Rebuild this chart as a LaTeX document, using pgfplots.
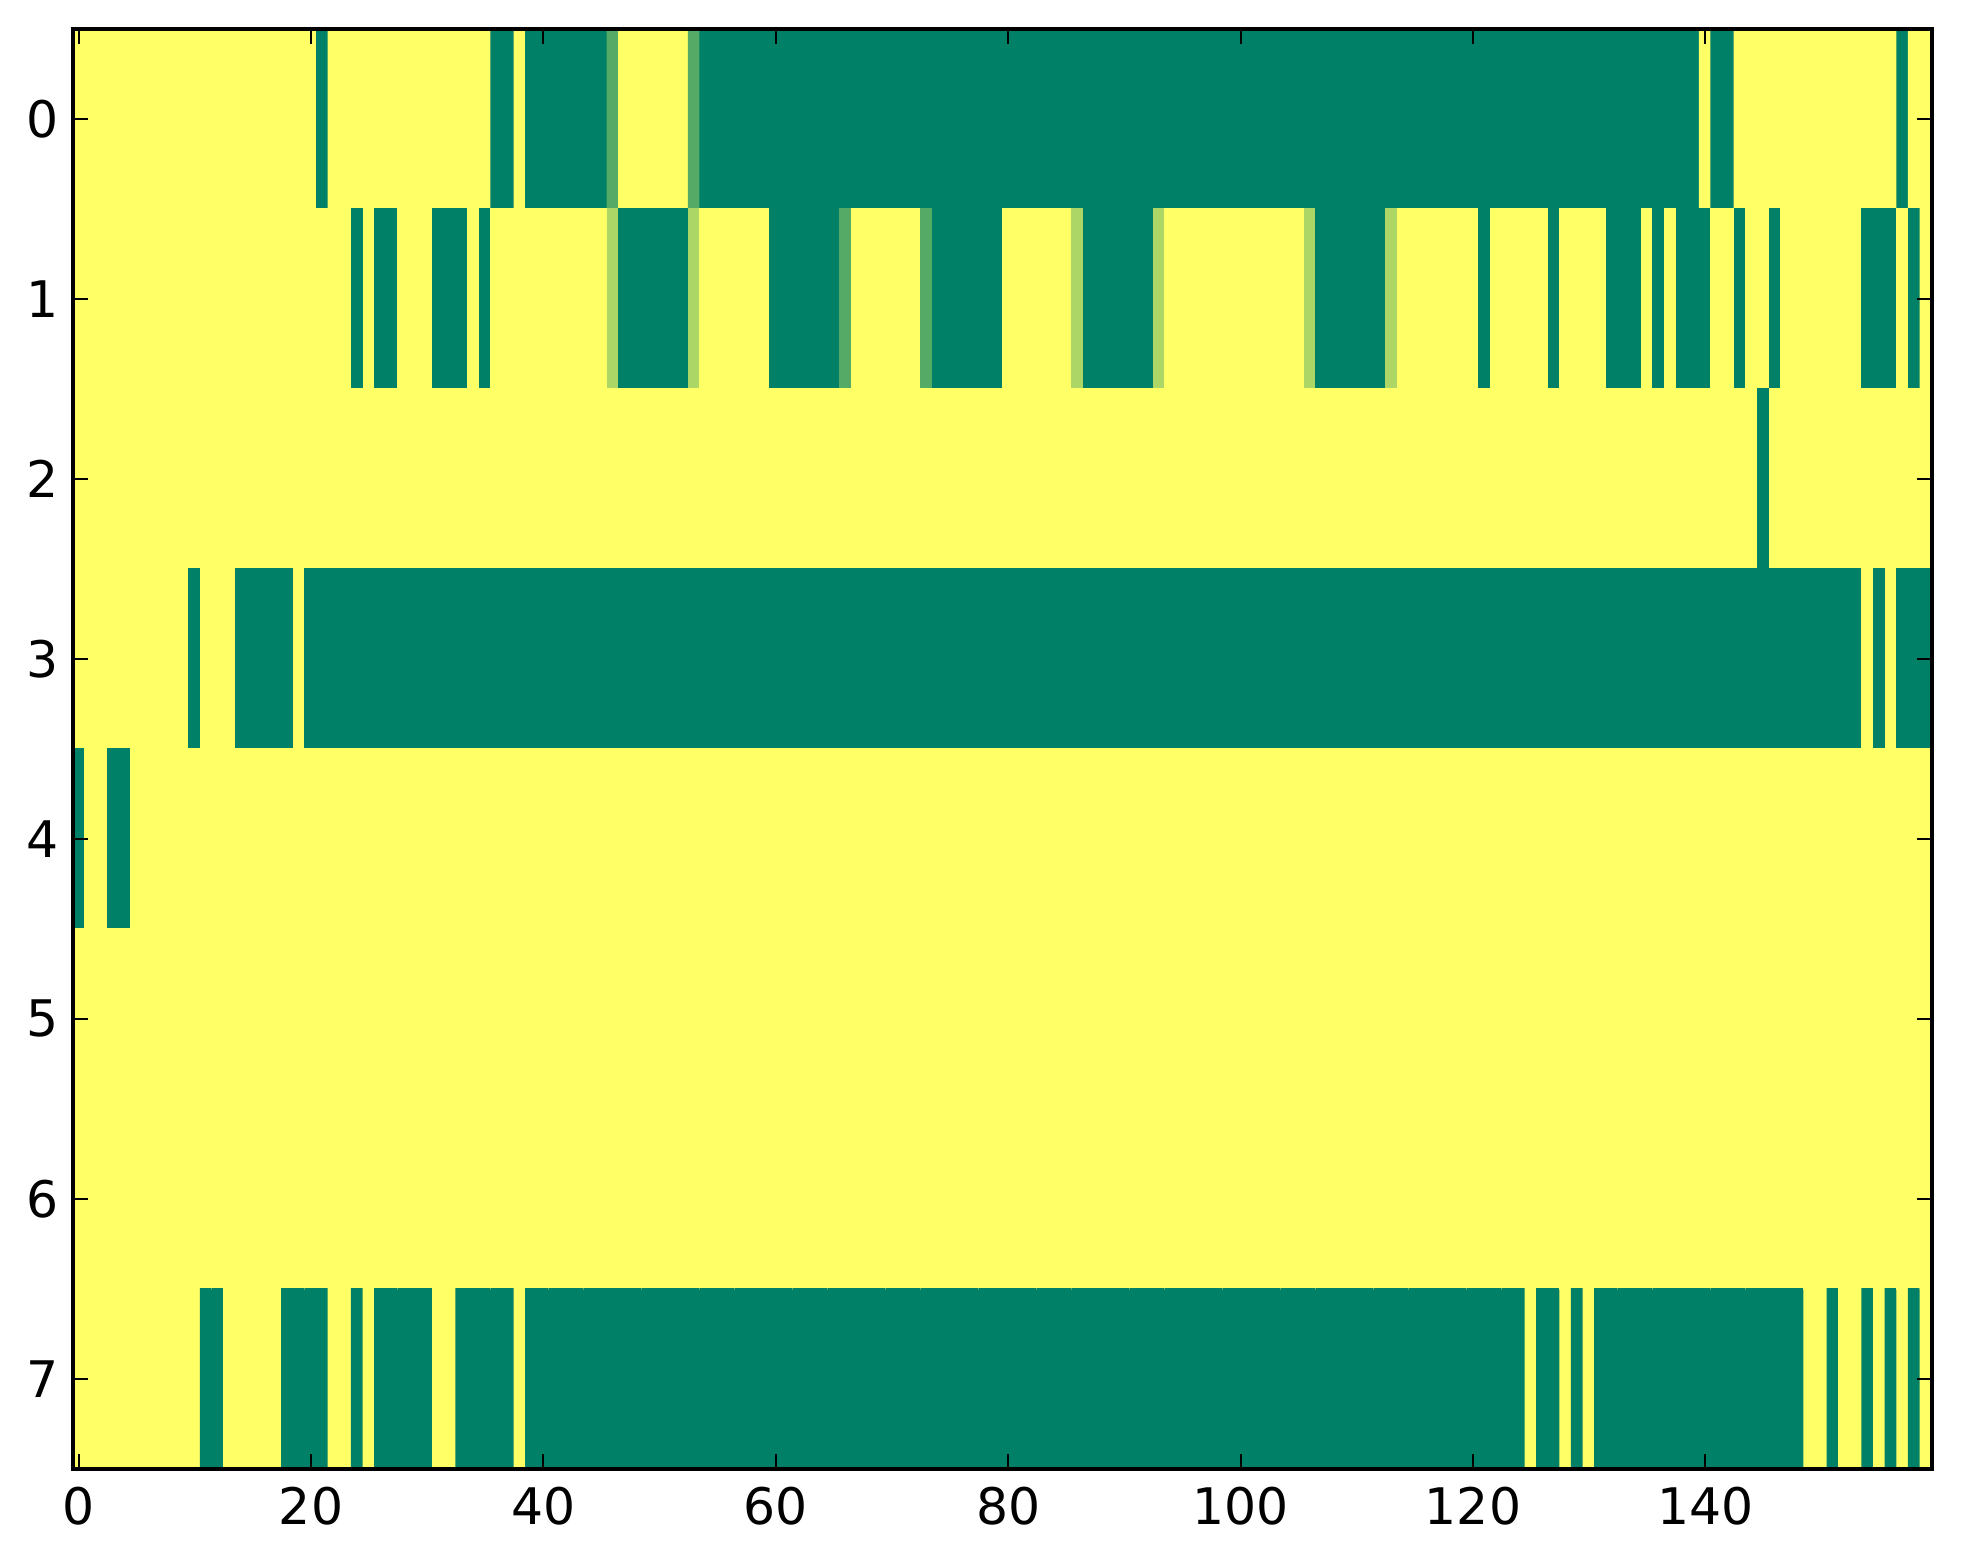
\documentclass[border=0pt]{standalone}
\usepackage{fontspec}
\setmainfont{DejaVu Sans}
\usepackage{pgfplots}
\usepackage{pgfplotstable}
\pgfplotsset{compat=1.18}

% one table per image row, 160 cells each, ten cells per line
\pgfplotstableread[row sep=\\]{
c\\
1\\1\\1\\1\\1\\1\\1\\1\\1\\1\\
1\\1\\1\\1\\1\\1\\1\\1\\1\\1\\
1\\0\\1\\1\\1\\1\\1\\1\\1\\1\\
1\\1\\1\\1\\1\\1\\0\\0\\1\\0\\
0\\0\\0\\0\\0\\0\\.33\\1\\1\\1\\
1\\1\\1\\.33\\0\\0\\0\\0\\0\\0\\
0\\0\\0\\0\\0\\0\\0\\0\\0\\0\\
0\\0\\0\\0\\0\\0\\0\\0\\0\\0\\
0\\0\\0\\0\\0\\0\\0\\0\\0\\0\\
0\\0\\0\\0\\0\\0\\0\\0\\0\\0\\
0\\0\\0\\0\\0\\0\\0\\0\\0\\0\\
0\\0\\0\\0\\0\\0\\0\\0\\0\\0\\
0\\0\\0\\0\\0\\0\\0\\0\\0\\0\\
0\\0\\0\\0\\0\\0\\0\\0\\0\\0\\
1\\0\\0\\1\\1\\1\\1\\1\\1\\1\\
1\\1\\1\\1\\1\\1\\1\\0\\1\\1\\
}\cells
\pgfplotstableread[row sep=\\]{
c\\
1\\1\\1\\1\\1\\1\\1\\1\\1\\1\\
1\\1\\1\\1\\1\\1\\1\\1\\1\\1\\
1\\1\\1\\1\\0\\1\\0\\0\\1\\1\\
1\\0\\0\\0\\1\\0\\1\\1\\1\\1\\
1\\1\\1\\1\\1\\1\\.67\\0\\0\\0\\
0\\0\\0\\.67\\1\\1\\1\\1\\1\\1\\
0\\0\\0\\0\\0\\0\\.33\\1\\1\\1\\
1\\1\\1\\.33\\0\\0\\0\\0\\0\\0\\
1\\1\\1\\1\\1\\1\\.67\\0\\0\\0\\
0\\0\\0\\.67\\1\\1\\1\\1\\1\\1\\
1\\1\\1\\1\\1\\1\\.67\\0\\0\\0\\
0\\0\\0\\.67\\1\\1\\1\\1\\1\\1\\
1\\0\\1\\1\\1\\1\\1\\0\\1\\1\\
1\\1\\0\\0\\0\\1\\0\\1\\0\\0\\
0\\1\\1\\0\\1\\1\\0\\1\\1\\1\\
1\\1\\1\\1\\0\\0\\0\\1\\0\\1\\
}\rowone
\pgfplotstableread[row sep=\\]{
c\\
1\\1\\1\\1\\1\\1\\1\\1\\1\\1\\
1\\1\\1\\1\\1\\1\\1\\1\\1\\1\\
1\\1\\1\\1\\1\\1\\1\\1\\1\\1\\
1\\1\\1\\1\\1\\1\\1\\1\\1\\1\\
1\\1\\1\\1\\1\\1\\1\\1\\1\\1\\
1\\1\\1\\1\\1\\1\\1\\1\\1\\1\\
1\\1\\1\\1\\1\\1\\1\\1\\1\\1\\
1\\1\\1\\1\\1\\1\\1\\1\\1\\1\\
1\\1\\1\\1\\1\\1\\1\\1\\1\\1\\
1\\1\\1\\1\\1\\1\\1\\1\\1\\1\\
1\\1\\1\\1\\1\\1\\1\\1\\1\\1\\
1\\1\\1\\1\\1\\1\\1\\1\\1\\1\\
1\\1\\1\\1\\1\\1\\1\\1\\1\\1\\
1\\1\\1\\1\\1\\1\\1\\1\\1\\1\\
1\\1\\1\\1\\1\\0\\1\\1\\1\\1\\
1\\1\\1\\1\\1\\1\\1\\1\\1\\1\\
}\rowtwo
\pgfplotstableread[row sep=\\]{
c\\
1\\1\\1\\1\\1\\1\\1\\1\\1\\1\\
0\\1\\1\\1\\0\\0\\0\\0\\0\\1\\
0\\0\\0\\0\\0\\0\\0\\0\\0\\0\\
0\\0\\0\\0\\0\\0\\0\\0\\0\\0\\
0\\0\\0\\0\\0\\0\\0\\0\\0\\0\\
0\\0\\0\\0\\0\\0\\0\\0\\0\\0\\
0\\0\\0\\0\\0\\0\\0\\0\\0\\0\\
0\\0\\0\\0\\0\\0\\0\\0\\0\\0\\
0\\0\\0\\0\\0\\0\\0\\0\\0\\0\\
0\\0\\0\\0\\0\\0\\0\\0\\0\\0\\
0\\0\\0\\0\\0\\0\\0\\0\\0\\0\\
0\\0\\0\\0\\0\\0\\0\\0\\0\\0\\
0\\0\\0\\0\\0\\0\\0\\0\\0\\0\\
0\\0\\0\\0\\0\\0\\0\\0\\0\\0\\
0\\0\\0\\0\\0\\0\\0\\0\\0\\0\\
0\\0\\0\\0\\1\\0\\1\\0\\0\\0\\
}\rowthree
\pgfplotstableread[row sep=\\]{
c\\
0\\1\\1\\0\\0\\1\\1\\1\\1\\1\\
1\\1\\1\\1\\1\\1\\1\\1\\1\\1\\
1\\1\\1\\1\\1\\1\\1\\1\\1\\1\\
1\\1\\1\\1\\1\\1\\1\\1\\1\\1\\
1\\1\\1\\1\\1\\1\\1\\1\\1\\1\\
1\\1\\1\\1\\1\\1\\1\\1\\1\\1\\
1\\1\\1\\1\\1\\1\\1\\1\\1\\1\\
1\\1\\1\\1\\1\\1\\1\\1\\1\\1\\
1\\1\\1\\1\\1\\1\\1\\1\\1\\1\\
1\\1\\1\\1\\1\\1\\1\\1\\1\\1\\
1\\1\\1\\1\\1\\1\\1\\1\\1\\1\\
1\\1\\1\\1\\1\\1\\1\\1\\1\\1\\
1\\1\\1\\1\\1\\1\\1\\1\\1\\1\\
1\\1\\1\\1\\1\\1\\1\\1\\1\\1\\
1\\1\\1\\1\\1\\1\\1\\1\\1\\1\\
1\\1\\1\\1\\1\\1\\1\\1\\1\\1\\
}\rowfour
\pgfplotstableread[row sep=\\]{
c\\
1\\1\\1\\1\\1\\1\\1\\1\\1\\1\\
1\\1\\1\\1\\1\\1\\1\\1\\1\\1\\
1\\1\\1\\1\\1\\1\\1\\1\\1\\1\\
1\\1\\1\\1\\1\\1\\1\\1\\1\\1\\
1\\1\\1\\1\\1\\1\\1\\1\\1\\1\\
1\\1\\1\\1\\1\\1\\1\\1\\1\\1\\
1\\1\\1\\1\\1\\1\\1\\1\\1\\1\\
1\\1\\1\\1\\1\\1\\1\\1\\1\\1\\
1\\1\\1\\1\\1\\1\\1\\1\\1\\1\\
1\\1\\1\\1\\1\\1\\1\\1\\1\\1\\
1\\1\\1\\1\\1\\1\\1\\1\\1\\1\\
1\\1\\1\\1\\1\\1\\1\\1\\1\\1\\
1\\1\\1\\1\\1\\1\\1\\1\\1\\1\\
1\\1\\1\\1\\1\\1\\1\\1\\1\\1\\
1\\1\\1\\1\\1\\1\\1\\1\\1\\1\\
1\\1\\1\\1\\1\\1\\1\\1\\1\\1\\
}\rowfive
\pgfplotstableread[row sep=\\]{
c\\
1\\1\\1\\1\\1\\1\\1\\1\\1\\1\\
1\\1\\1\\1\\1\\1\\1\\1\\1\\1\\
1\\1\\1\\1\\1\\1\\1\\1\\1\\1\\
1\\1\\1\\1\\1\\1\\1\\1\\1\\1\\
1\\1\\1\\1\\1\\1\\1\\1\\1\\1\\
1\\1\\1\\1\\1\\1\\1\\1\\1\\1\\
1\\1\\1\\1\\1\\1\\1\\1\\1\\1\\
1\\1\\1\\1\\1\\1\\1\\1\\1\\1\\
1\\1\\1\\1\\1\\1\\1\\1\\1\\1\\
1\\1\\1\\1\\1\\1\\1\\1\\1\\1\\
1\\1\\1\\1\\1\\1\\1\\1\\1\\1\\
1\\1\\1\\1\\1\\1\\1\\1\\1\\1\\
1\\1\\1\\1\\1\\1\\1\\1\\1\\1\\
1\\1\\1\\1\\1\\1\\1\\1\\1\\1\\
1\\1\\1\\1\\1\\1\\1\\1\\1\\1\\
1\\1\\1\\1\\1\\1\\1\\1\\1\\1\\
}\rowsix
\pgfplotstableread[row sep=\\]{
c\\
1\\1\\1\\1\\1\\1\\1\\1\\1\\1\\
1\\0\\0\\1\\1\\1\\1\\1\\0\\0\\
0\\0\\1\\1\\0\\1\\0\\0\\0\\0\\
0\\1\\1\\0\\0\\0\\0\\0\\1\\0\\
0\\0\\0\\0\\0\\0\\0\\0\\0\\0\\
0\\0\\0\\0\\0\\0\\0\\0\\0\\0\\
0\\0\\0\\0\\0\\0\\0\\0\\0\\0\\
0\\0\\0\\0\\0\\0\\0\\0\\0\\0\\
0\\0\\0\\0\\0\\0\\0\\0\\0\\0\\
0\\0\\0\\0\\0\\0\\0\\0\\0\\0\\
0\\0\\0\\0\\0\\0\\0\\0\\0\\0\\
0\\0\\0\\0\\0\\0\\0\\0\\0\\0\\
0\\0\\0\\0\\0\\1\\0\\0\\1\\0\\
1\\0\\0\\0\\0\\0\\0\\0\\0\\0\\
0\\0\\0\\0\\0\\0\\0\\0\\0\\1\\
1\\0\\1\\1\\0\\1\\0\\1\\0\\1\\
}\rowseven

% stack the rows below row 0
\pgfplotstablevertcat{\cells}{\rowone}
\pgfplotstablevertcat{\cells}{\rowtwo}
\pgfplotstablevertcat{\cells}{\rowthree}
\pgfplotstablevertcat{\cells}{\rowfour}
\pgfplotstablevertcat{\cells}{\rowfive}
\pgfplotstablevertcat{\cells}{\rowsix}
\pgfplotstablevertcat{\cells}{\rowseven}

\begin{document}
\begin{tikzpicture}
\begin{axis}[
    scale only axis,
    width=464.75pt, height=360pt,
    xmin=-0.5, xmax=159.5, ymin=-0.5, ymax=7.5,
    y dir=reverse,
    enlargelimits=false,
    axis on top,
    axis line style={line width=1pt},
    tick style={black, line width=0.5pt},
    major tick length=3.7pt,
    tick align=inside,
    xtick={0,20,...,140}, ytick={0,...,7},
    minor tick num=0,
    tick label style={font=\fontsize{12.6}{15}\selectfont},
    /pgf/number format/assume math mode=true,
    xticklabel style={yshift=-1pt},
    colormap={summer}{rgb255=(0,128,102) rgb255=(255,255,102)},
    point meta min=0, point meta max=1,
]
\addplot[matrix plot, mesh/cols=160, point meta=explicit]
    table[x index=0, y index=0,
          x expr={\coordindex-160*floor(\coordindex/160)},
          y expr={floor(\coordindex/160)}, meta=c] {\cells};
\end{axis}
\pgfresetboundingbox
\path ([xshift=-18.2pt,yshift=-23.8pt]current axis.south west)
    rectangle ([xshift=7.75pt,yshift=7.2pt]current axis.north east);
\end{tikzpicture}
\end{document}
